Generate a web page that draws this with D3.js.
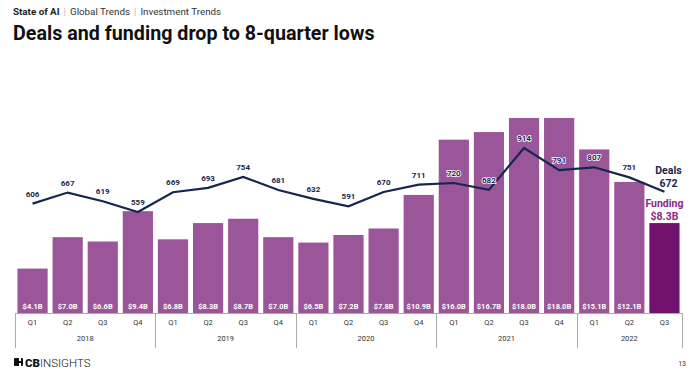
<!DOCTYPE html>
<html>
<head>
<meta charset="utf-8">
<script src="https://cdn.jsdelivr.net/npm/d3@7"></script>
<style>
  body { margin: 0; background: #fff; }
  svg { display: block; font-family: Roboto, "Open Sans", sans-serif; }
</style>
</head>
<body>
<div id="chart"></div>
<script>
// data
const years = ["2018", "2019", "2020", "2021", "2022"];
const quarters = ["Q1", "Q2", "Q3", "Q4", "Q1", "Q2", "Q3", "Q4", "Q1", "Q2", "Q3", "Q4",
  "Q1", "Q2", "Q3", "Q4", "Q1", "Q2", "Q3"];
const quarterYears = ["2018", "2018", "2018", "2018", "2019", "2019", "2019", "2019",
  "2020", "2020", "2020", "2020", "2021", "2021", "2021", "2021", "2022", "2022", "2022"];
const funding = [4.1, 7.0, 6.6, 9.4, 6.8, 8.3, 8.7, 7.0, 6.5, 7.2, 7.8, 10.9,
  16.0, 16.7, 18.0, 18.0, 15.1, 12.1, 8.3];
const deals = [606, 667, 619, 559, 669, 693, 754, 681, 632, 591, 670, 711,
  720, 682, 914, 791, 807, 751, 672];

const width = 700, height = 375;
const navy = "#17264d", purple = "#9b5599", darkPurple = "#72126f";

const svg = d3.select("#chart").append("svg")
  .attr("width", width)
  .attr("height", height);

// header
const head = svg.append("text").attr("x", 13).attr("y", 15).attr("font-size", 9.8).attr("fill", "#222");
head.append("tspan").attr("font-weight", "bold").text("State of AI");
head.append("tspan").attr("fill", "#bbb").attr("dx", 4).text("|");
head.append("tspan").attr("dx", 4).attr("fill", "#333").text("Global Trends");
head.append("tspan").attr("fill", "#bbb").attr("dx", 4).text("|");
head.append("tspan").attr("dx", 4).attr("fill", "#333").text("Investment Trends");

svg.append("text")
  .attr("x", 13).attr("y", 40)
  .attr("font-size", 19.7).attr("font-weight", "bold").attr("fill", "#111")
  .text("Deals and funding drop to 8-quarter lows");

// scales
const idx = d3.range(funding.length);
const x = d3.scaleBand().domain(idx).range([15, 682]).paddingInner(0.14).paddingOuter(0.07);
const yBar = d3.scaleLinear().domain([0, 18]).range([313, 118]);
const yDeal = d3.scaleLinear().domain([0, 1080]).range([313, 118]);
const last = funding.length - 1;

// bars
svg.append("g").selectAll("rect").data(idx).join("rect")
  .attr("x", i => x(i))
  .attr("width", x.bandwidth())
  .attr("y", i => yBar(funding[i]))
  .attr("height", i => yBar(0) - yBar(funding[i]))
  .attr("fill", i => i === last ? darkPurple : purple);

svg.append("g").selectAll("text").data(idx.slice(0, last)).join("text")
  .attr("x", i => x(i) + x.bandwidth() / 2)
  .attr("y", 308.5)
  .attr("text-anchor", "middle")
  .attr("font-size", 7.5).attr("font-weight", "bold").attr("fill", "#fff")
  .text(i => "$" + funding[i].toFixed(1) + "B");

// deals line
const line = d3.line()
  .x(i => x(i) + x.bandwidth() / 2)
  .y(i => yDeal(deals[i]));

svg.append("path")
  .datum(idx)
  .attr("d", line)
  .attr("fill", "none")
  .attr("stroke", navy)
  .attr("stroke-width", 2.2);

svg.append("g").selectAll("text").data(idx.slice(0, last)).join("text")
  .attr("x", i => x(i) + x.bandwidth() / 2)
  .attr("y", i => yDeal(deals[i]) - 7)
  .attr("text-anchor", "middle")
  .attr("font-size", 8).attr("font-weight", "bold")
  .attr("fill", navy)
  .attr("stroke", "#fff").attr("stroke-width", 1.6).attr("paint-order", "stroke")
  .text(i => deals[i]);

// end annotations
const ax = x(last) + x.bandwidth() / 2;
const ann = svg.append("g").attr("text-anchor", "middle").attr("font-weight", "bold").attr("font-size", 10.5);
ann.append("text").attr("x", ax + 4).attr("y", 174).attr("fill", navy).text("Deals");
ann.append("text").attr("x", ax + 4).attr("y", 187).attr("fill", navy).text(deals[last]);
ann.append("text").attr("x", ax).attr("y", 207).attr("fill", "#8a2a88").text("Funding");
ann.append("text").attr("x", ax).attr("y", 220).attr("fill", "#8a2a88").text("$" + funding[last].toFixed(1) + "B");

// category axis: quarters + years
const axisG = svg.append("g");
axisG.append("line")
  .attr("x1", x.range()[0]).attr("x2", x.range()[1])
  .attr("y1", 313.5).attr("y2", 313.5)
  .attr("stroke", "#aaa");

axisG.selectAll(".q").data(idx).join("text")
  .attr("x", i => x(i) + x.bandwidth() / 2)
  .attr("y", 325)
  .attr("text-anchor", "middle")
  .attr("font-size", 7.5).attr("fill", "#333")
  .text(i => quarters[i]);

const step = x.step();
const yearSpan = years.map(yr => {
  const first = quarterYears.indexOf(yr);
  const lastQ = quarterYears.lastIndexOf(yr);
  return { yr, x0: x.range()[0] + first * step, x1: x.range()[0] + (lastQ + 1) * step };
});
yearSpan[yearSpan.length - 1].x1 = x.range()[1];

axisG.selectAll(".sep").data([x.range()[0], ...yearSpan.map(d => d.x1)]).join("line")
  .attr("x1", d => Math.round(d) + 0.5).attr("x2", d => Math.round(d) + 0.5)
  .attr("y1", 313).attr("y2", 348)
  .attr("stroke", "#aaa");

axisG.selectAll(".yr").data(yearSpan).join("text")
  .attr("x", d => (d.x0 + d.x1) / 2)
  .attr("y", 341)
  .attr("text-anchor", "middle")
  .attr("font-size", 7.5).attr("fill", "#333")
  .text(d => d.yr);

// footer logo + page number
const logo = svg.append("g").attr("transform", "translate(14,358)");
logo.append("path")
  .attr("d", "M1,0 H5 V3 H7 V0 H8 Q9,0 9,1 V7 Q9,8 8,8 H7 V5 H5 V8 H1 Q0,8 0,7 V1 Q0,0 1,0 Z")
  .attr("fill", "#111");
const lt = logo.append("text").attr("x", 11).attr("y", 8.5).attr("font-size", 11.5).attr("fill", "#111");
lt.append("tspan").attr("font-weight", "900").text("CB");
lt.append("tspan").attr("font-weight", "300").text("INSIGHTS");

svg.append("text")
  .attr("x", 686).attr("y", 366)
  .attr("text-anchor", "end")
  .attr("font-size", 7).attr("fill", "#333")
  .text("13");
</script>
</body>
</html>
